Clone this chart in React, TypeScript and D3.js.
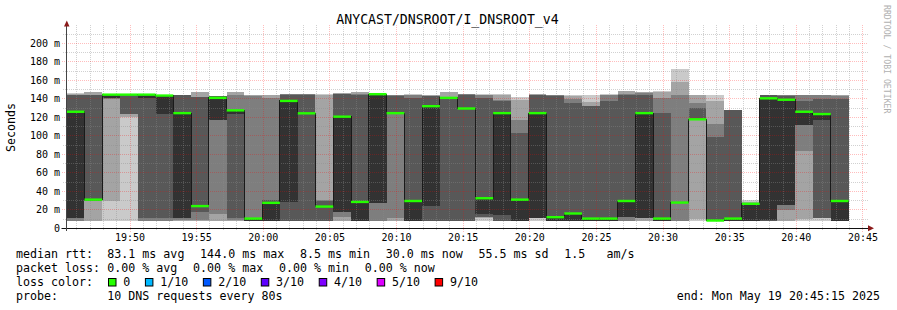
import React from 'react';
import * as d3 from 'd3';

const TITLE = 'ANYCAST/DNSROOT/I_DNSROOT_v4';
const Y_LABEL = 'Seconds';
const WATERMARK = 'RRDTOOL / TOBI OETIKER';

const startTime = new Date(Date.UTC(2025, 4, 19, 19, 45, 15));
const endTime = new Date(Date.UTC(2025, 4, 19, 20, 45, 15));
const stepSeconds = 80;

// ten sorted DNS round-trip times (ms) for each 80 s step; null = no data yet
const pings: (number[] | null)[] = [
  [8, 8.2, 8.4, 11, 11, 126, 144, 144.5, 145, 146],
  [8, 8.2, 29, 30, 31, 31, 144, 144.5, 147, 147.5],
  [8, 30, 140, 140.5, 141, 144.5, 145, 145.2, 145.4, 145.6],
  [8, 120.6, 123.6, 124, 144, 144.5, 145, 145.2, 145.4, 145.5],
  [8, 8, 8.2, 11, 140.5, 144.5, 145, 145.2, 145.4, 145.5],
  [8, 8, 8.2, 11, 123.6, 143.5, 144, 144.2, 144.4, 144.6],
  [8, 8.2, 8.5, 11, 11.2, 124.5, 144, 144.3, 144.5, 144.6],
  [8, 8.2, 8.5, 18, 23, 24, 141.5, 142, 147, 147.5],
  [8, 8.2, 15.5, 117, 117.5, 141, 142.5, 143, 143.2, 143.5],
  [8, 8.2, 8.5, 11, 123.6, 127.5, 128, 144.5, 147, 147.5],
  [8, 8, 8, 8, 8.2, 10.5, 10.8, 143, 144, 144.5],
  [8, 8, 8, 8.2, 8.2, 27.5, 30.6, 141, 144, 144.5],
  [8, 8, 8.2, 8.2, 28.5, 137.7, 144.5, 144.7, 144.8, 145],
  [8, 8, 8, 8.2, 123.5, 124.3, 144.5, 144.7, 144.8, 145],
  [8, 8, 8.2, 8.2, 22.5, 23.5, 29.6, 30.6, 144.5, 145],
  [8, 8.2, 12, 18, 18, 120.7, 145, 145.5, 146, 146.2],
  [8, 8, 8.2, 8.2, 8.2, 28.5, 144.5, 145, 147, 147.5],
  [8, 8.2, 8.2, 27, 27, 145, 145.3, 145.4, 145.5, 145.6],
  [8, 8.2, 11, 123.5, 124, 124.5, 143.5, 144, 144.2, 144.4],
  [8, 8, 8.2, 8.2, 8.2, 29.5, 140.5, 144.5, 144.6, 144.7],
  [8, 8, 8.2, 8.2, 24, 132, 143, 143.5, 143.7, 144],
  [8, 8, 8.2, 8.2, 140.5, 141, 141.5, 142, 147, 147.5],
  [8, 8, 8.2, 8.2, 129, 129.5, 144.5, 144.7, 144.8, 145],
  [8.2, 11.5, 11.8, 12, 15.5, 32.5, 141, 144.5, 144.6, 144.7],
  [8, 8, 8.2, 8.2, 14.5, 124.5, 138, 139, 144.5, 145],
  [8, 8, 8, 8.2, 8.2, 31, 103.4, 117, 139, 141.5],
  [8, 11, 11, 11, 11, 124.5, 144.5, 144.6, 144.7, 144.8],
  [8, 8, 8, 8, 8.2, 12, 143.5, 143.7, 143.8, 144],
  [8, 8, 8, 8.2, 8.2, 16, 135.7, 139.4, 143, 144.5],
  [8, 8, 8, 8, 8.2, 10.5, 132, 132.2, 136.4, 144.5],
  [8, 8, 8, 8, 8.2, 10.5, 138, 144.5, 144.6, 144.7],
  [8, 8.2, 8.2, 12, 12, 29.5, 144.5, 144.7, 148, 148.3],
  [8, 8.2, 11, 11, 11, 124.5, 144.5, 146, 147, 147.2],
  [8, 8, 8, 8, 8.2, 10.5, 125, 141, 147.5, 148.4],
  [8, 8, 8.2, 27.5, 27.5, 27.8, 28, 144, 158, 172],
  [8, 10.5, 117.5, 117.6, 117.7, 117.8, 129.7, 135.8, 144, 144.2],
  [7.8, 7.8, 8, 8, 8, 8.4, 99, 112.8, 138, 144],
  [8, 8, 8, 8, 8.2, 10.5, 127.5, 128, 128.2, 128.4],
  [8, 8, 8, 8, 8.2, 26.5, 27, 27.5, 28, 30.5],
  [8, 8, 8, 8.2, 8.5, 140.5, 144, 144.3, 144.5, 144.6],
  [8, 8.2, 19.5, 24.7, 25, 139, 143.5, 143.8, 144, 144.2],
  [8, 10.5, 84, 111.7, 111.7, 126, 138, 144, 144.3, 144.5],
  [8, 11, 11, 11, 117.6, 123.5, 140, 144, 144.2, 144.4],
  [8, 8, 8, 8, 8.2, 29.5, 140, 143.5, 143.7, 143.8],
  null,
];

const yTickValues = [0, 20, 40, 60, 80, 100, 120, 140, 160, 180, 200];
const yMinorValues = [10, 30, 50, 70, 90, 110, 130, 150, 170, 190, 210];
const yMax = 220;

const smokeShades = ['#cacaca', '#a4a4a4', '#7e7e7e', '#585858', '#323232'];
const medianLossColor = '#26ff00';

const statsLabel = 'median rtt:';
const statsItems = ['83.1 ms avg', '144.0 ms max', '8.5 ms min', '30.0 ms now', '55.5 ms sd', '1.5   am/s'];
const lossLabel = 'packet loss:';
const lossItems = ['0.00 % avg', '0.00 % max', '0.00 % min', '0.00 % now'];
const lossColorLabel = 'loss color:';
const lossLegendLabels = ['0', '1/10', '2/10', '3/10', '4/10', '5/10', '9/10'];
const lossLegendColors = ['#26ff00', '#00b8ff', '#0059ff', '#5e00ff', '#7e00ff', '#dd00ff', '#ff0000'];
const probeLabel = 'probe:';
const probeText = '10 DNS requests every 80s';
const endText = 'end: Mon May 19 20:45:15 2025';

const W = 897;
const H = 310;
const MONO = "'DejaVu Sans Mono', monospace";

export default function App() {
  const x = d3.scaleUtc().domain([startTime, endTime]).range([66.7, 866.3]);
  const y = d3.scaleLinear().domain([0, yMax]).range([228.3, 24.8]);
  const px = (v: number) => Math.floor(v) + 0.5;

  const cols = pings.map((p, i) => {
    const t0 = new Date(startTime.getTime() + i * stepSeconds * 1000);
    const t1 = new Date(startTime.getTime() + (i + 1) * stepSeconds * 1000);
    return { p, x0: x(t0), x1: Math.min(x(t1), x(endTime)) };
  });

  const minutes = d3.utcMinute.range(d3.utcMinute.ceil(startTime), new Date(endTime.getTime() + 1));
  const majorMinutes = minutes.filter((m) => m.getUTCMinutes() % 5 === 0);
  const minorMinutes = minutes.filter((m) => m.getUTCMinutes() % 5 !== 0);
  const fmt = d3.utcFormat('%H:%M');

  // median step line
  const medPts: [number, number][] = [];
  cols.forEach((c) => {
    if (!c.p) return;
    medPts.push([c.x0, y(c.p[5])]);
  });
  const last = cols.filter((c) => c.p).slice(-1)[0];
  if (last && last.p) medPts.push([last.x1, y(last.p[5])]);
  const medPath = d3.line().curve(d3.curveStepAfter)(medPts) || '';

  const charW = 7.01;
  const tabX = 107.3;
  const gap = 15.7;
  const place = (items: string[]) => {
    let cx = tabX;
    return items.map((s) => {
      const r = { s, x: cx };
      cx += s.length * charW + gap;
      return r;
    });
  };
  const statsPos = place(statsItems);
  const lossPos = place(lossItems);
  const lossBoxes: { x: number; lx: number; label: string; color: string }[] = [];
  {
    let bx = 108;
    lossLegendLabels.forEach((label, i) => {
      const lx = bx + 15.3;
      lossBoxes.push({ x: bx, lx, label, color: lossLegendColors[i] });
      bx = lx + label.length * charW + 14.6;
    });
  }

  const gridMinor = 'rgba(140,140,140,0.4)';
  const gridMajor = 'rgba(255,0,0,0.26)';
  const dash = '1 1';
  const textStyle: React.CSSProperties = { whiteSpace: 'pre' };

  return (
    <svg
      width={W}
      height={H}
      viewBox={`0 0 ${W} ${H}`}
      style={{ position: 'absolute', left: 0, top: 0, background: '#ffffff' }}
      fontFamily={MONO}
    >
      <rect x={0} y={0} width={W} height={H} fill="#ffffff" />
      <text x={447.5} y={24} fontSize={13.2} textAnchor="middle" fill="#000">
        {TITLE}
      </text>

      {/* smoke */}
      <g shapeRendering="crispEdges">
        {cols.map((c, i) =>
          c.p
            ? smokeShades.map((col, k) => (
                <rect
                  key={`s${i}-${k}`}
                  x={c.x0}
                  width={c.x1 - c.x0}
                  y={y(c.p![9 - k])}
                  height={Math.max(0, y(c.p![k]) - y(c.p![9 - k]))}
                  fill={col}
                />
              ))
            : null
        )}
      </g>

      {/* grid */}
      <g shapeRendering="crispEdges">
        {minorMinutes.map((m, i) => (
          <line key={`vm${i}`} x1={px(x(m))} x2={px(x(m))} y1={25} y2={231}
            stroke={gridMinor} strokeWidth={1} strokeDasharray={dash} />
        ))}
        {yMinorValues.map((v) => (
          <line key={`hm${v}`} x1={63} x2={868} y1={px(y(v))} y2={px(y(v))}
            stroke={gridMinor} strokeWidth={1} strokeDasharray={dash} />
        ))}
        {majorMinutes.map((m, i) => (
          <line key={`vM${i}`} x1={px(x(m))} x2={px(x(m))} y1={25} y2={233}
            stroke={gridMajor} strokeWidth={1} strokeDasharray={dash} />
        ))}
        {yTickValues.filter((v) => v > 0).map((v) => (
          <line key={`hM${v}`} x1={62} x2={868} y1={px(y(v))} y2={px(y(v))}
            stroke={gridMajor} strokeWidth={1} strokeDasharray={dash} />
        ))}
      </g>

      {/* median line and loss-coloured median markers */}
      <path d={medPath} fill="none" stroke="#1a1a1a" strokeWidth={1} shapeRendering="crispEdges" />
      {cols.map((c, i) =>
        c.p ? (
          <rect
            key={`m${i}`}
            x={c.x0}
            width={c.x1 - c.x0}
            y={y(c.p[5]) - 1.2}
            height={2.4}
            fill={medianLossColor}
          />
        ) : null
      )}

      {/* axes */}
      <line x1={61.5} x2={869} y1={228.5} y2={228.5} stroke="#111" strokeWidth={1} />
      <line x1={66.5} x2={66.5} y1={231} y2={25} stroke="#444" strokeWidth={1} />
      <polygon points="64,26.5 69.5,26.5 66.8,20.5" fill="#8b1a1a" />
      <polygon points="868,225.3 868,231.3 874,228.3" fill="#8b1a1a" />

      {/* y tick labels */}
      {yTickValues.map((v) => (
        <text key={`yl${v}`} x={60} y={y(v) + 3.5} fontSize={10} textAnchor="end" fill="#000" style={textStyle}>
          {v === 0 ? '0' : `${v} m`}
        </text>
      ))}
      {/* x tick labels */}
      {majorMinutes.map((m, i) => (
        <text key={`xl${i}`} x={x(m)} y={240.7} fontSize={10} textAnchor="middle" fill="#000">
          {fmt(m)}
        </text>
      ))}

      <text transform="translate(15,127.5) rotate(-90)" fontSize={11.65} textAnchor="middle" fill="#000">
        {Y_LABEL}
      </text>
      <text transform="translate(883.5,5) rotate(90)" fontSize={8.2} fill="#b0b0b0">
        {WATERMARK}
      </text>

      {/* legend */}
      <g fontSize={11.65} fill="#000">
        <text x={16} y={258} style={textStyle}>{statsLabel}</text>
        {statsPos.map((s, i) => (
          <text key={`st${i}`} x={s.x} y={258} style={textStyle}>{s.s}</text>
        ))}
        <text x={16} y={272.2} style={textStyle}>{lossLabel}</text>
        {lossPos.map((s, i) => (
          <text key={`ls${i}`} x={s.x} y={272.2} style={textStyle}>{s.s}</text>
        ))}
        <text x={16} y={286.4} style={textStyle}>{lossColorLabel}</text>
        {lossBoxes.map((b, i) => (
          <g key={`lb${i}`}>
            <rect x={b.x + 0.5} y={278.5} width={7.5} height={7.5} fill={b.color} stroke="#000" strokeWidth={1} />
            <text x={b.lx} y={286.4} style={textStyle}>{b.label}</text>
          </g>
        ))}
        <text x={16} y={300.3} style={textStyle}>{probeLabel}</text>
        <text x={tabX} y={300.3} style={textStyle}>{probeText}</text>
        <text x={880} y={300.3} textAnchor="end" style={textStyle}>{endText}</text>
      </g>
    </svg>
  );
}
